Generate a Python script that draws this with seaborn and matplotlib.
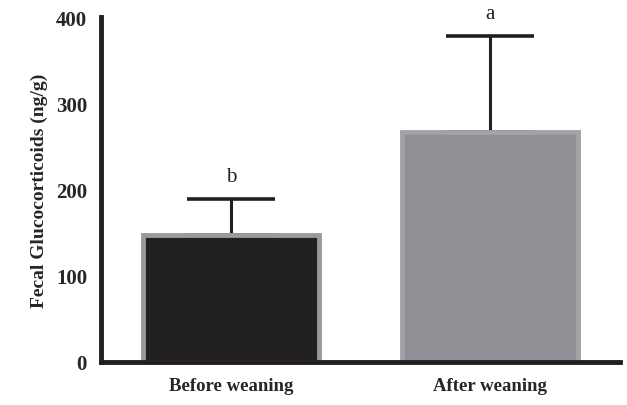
import matplotlib
matplotlib.use("Agg")
import matplotlib.pyplot as plt
import seaborn as sns
import pandas as pd

categories = ["Before weaning", "After weaning"]
means = [147, 267]
upper_err = [42, 111]
letters = ["b", "a"]
fill_colors = ["#231f20", "#8e8e96"]
edge_colors = ["#9a9a9e", "#a2a2a8"]
y_ticks = [0, 100, 200, 300, 400]

sns.set_style("white")
plt.rcParams["font.family"] = ["Liberation Serif", "DejaVu Serif"]

df = pd.DataFrame({"group": categories, "value": means})

fig = plt.figure(figsize=(6.27, 4.06), dpi=100)
ax = fig.add_axes([101 / 627, 43 / 406, 519 / 627, 345 / 406])

sns.barplot(data=df, x="group", y="value", hue="group", palette=fill_colors,
            width=0.68, errorbar=None, legend=False, ax=ax, zorder=2)
for patch, ec in zip(ax.patches, edge_colors):
    patch.set_edgecolor(ec)
    patch.set_linewidth(3.5)

xpos = list(range(len(categories)))
ax.errorbar(xpos, means, yerr=[[0] * len(means), upper_err], fmt="none",
            ecolor="#231f20", elinewidth=2.2, capsize=32, capthick=2.6, zorder=1)

for x, m, e, lab in zip(xpos, means, upper_err, letters):
    ax.annotate(lab, (x, m + e), xytext=(0, 9), textcoords="offset points",
                ha="center", va="bottom", fontsize=15, color="#231f20")

ax.set_xlim(-0.5, 1.5)
ax.set_ylim(0, 400)
ax.set_yticks(y_ticks)
ax.set_yticklabels([str(t) for t in y_ticks], fontsize=15, fontweight="bold")
ax.set_xticks(xpos)
ax.set_xticklabels(categories, fontsize=13.5, fontweight="bold")
ax.set_xlabel("")
ax.set_ylabel("Fecal Glucocorticoids (ng/g)", fontsize=14, fontweight="bold",
              labelpad=6)

for side in ["top", "right"]:
    ax.spines[side].set_visible(False)
for side in ["left", "bottom"]:
    ax.spines[side].set_linewidth(3.5)
    ax.spines[side].set_color("#231f20")
    ax.spines[side].set_zorder(3)
ax.spines["left"].set_bounds(0, 400)
ax.tick_params(axis="y", direction="out", length=8, width=3.5, color="#231f20", pad=2)
ax.tick_params(axis="x", direction="out", length=8, width=3, color="#231f20", pad=3)

fig.savefig("out.png", dpi=100)
